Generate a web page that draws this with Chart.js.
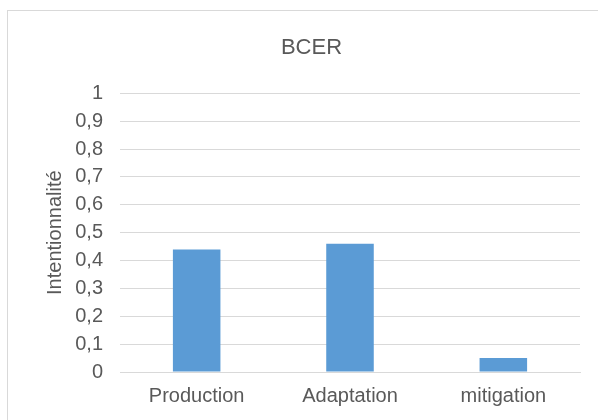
<!DOCTYPE html>
<html>
<head>
<meta charset="utf-8">
<script src="https://cdn.jsdelivr.net/npm/chart.js@4"></script>
<style>
    body { margin: 0; background: #fff; }
    #frame {
        position: absolute; left: 7px; top: 10px;
        width: 620px; height: 440px;
        border: 1px solid #d9d9d9; box-sizing: border-box;
    }
    #chart { position: absolute; left: 0; top: 0; }
</style>
</head>
<body>
<div id="frame"></div>
<canvas id="chart" width="598" height="420"></canvas>
<script>
const categories = ['Production', 'Adaptation', 'mitigation'];
const values = [0.44, 0.46, 0.05];
const chartTitle = 'BCER';
const yTitle = 'Intentionnalité';

const textColor = '#595959';
const fontFamily = "'Liberation Sans', Arial, sans-serif";

new Chart(document.getElementById('chart').getContext('2d'), {
    type: 'bar',
    data: {
        labels: categories,
        datasets: [{
            data: values,
            backgroundColor: '#5b9bd5',
            barPercentage: 0.31,
            categoryPercentage: 1
        }]
    },
    options: {
        responsive: false,
        animation: false,
        layout: { padding: { left: 43, right: 18, top: 35, bottom: 0 } },
        plugins: {
            legend: { display: false },
            tooltip: { enabled: false },
            title: {
                display: true,
                text: chartTitle,
                color: textColor,
                font: { family: fontFamily, size: 22, weight: 'normal' },
                padding: { top: 0, bottom: 32 }
            }
        },
        scales: {
            x: {
                grid: { display: false, drawTicks: false },
                border: { color: '#d9d9d9', width: 1 },
                ticks: { color: textColor, font: { family: fontFamily, size: 20 }, padding: 12 }
            },
            y: {
                min: 0, max: 1,
                ticks: {
                    stepSize: 0.1,
                    autoSkip: false,
                    color: textColor,
                    font: { family: fontFamily, size: 20 },
                    padding: 17,
                    callback: v => (Math.round(v * 10) / 10).toString().replace('.', ',')
                },
                grid: { color: '#d9d9d9', lineWidth: 1, drawTicks: false },
                border: { display: false },
                title: {
                    display: true,
                    text: yTitle,
                    color: textColor,
                    font: { family: fontFamily, size: 20 },
                    padding: 0
                },
                afterFit: scale => { scale.width = 77; }
            }
        }
    }
});
</script>
</body>
</html>
